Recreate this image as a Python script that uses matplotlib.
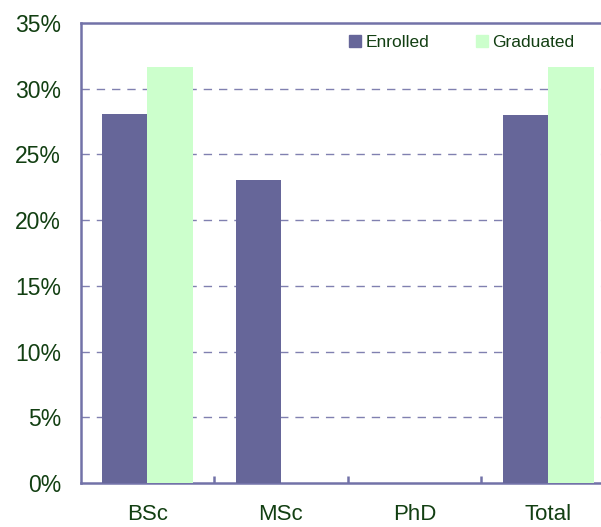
import numpy as np
import matplotlib
matplotlib.use('Agg')
import matplotlib.pyplot as plt
from matplotlib.patches import Patch

categories = ['BSc', 'MSc', 'PhD', 'Total']
enrolled = [28.1, 23.05, 0.0, 28.0]
graduated = [31.65, 0.0, 0.0, 31.65]
yticks = [0, 5, 10, 15, 20, 25, 30, 35]

txt = '#123f12'
edge = '#7272a8'
c_enr = '#666699'
c_grad = '#ccffcc'

plt.rcParams['font.family'] = ['Liberation Sans', 'DejaVu Sans']

fig = plt.figure(figsize=(6.01, 5.27), dpi=100)
# axes run past the right edge of the canvas, like the original
ax = fig.add_axes([80.5 / 601, 44 / 527, 534.5 / 601, 460 / 527])

x = np.arange(len(categories))
w = 0.34
ax.bar(x - w / 2, enrolled, w, color=c_enr, zorder=3)
ax.bar(x + w / 2, graduated, w, color=c_grad, zorder=3)

ax.set_xlim(-0.5, 3.5)
ax.set_ylim(0, 35)
ax.set_yticks(yticks)
ax.set_yticklabels([f'{v}%' for v in yticks])
ax.set_xticks(x)
ax.set_xticklabels(categories)
ax.set_xticks([0.5, 1.5, 2.5], minor=True)

for v in yticks[1:-1]:
    ax.axhline(v, color='#8080b0', lw=1, dashes=(6, 5), zorder=1)

for s in ['left', 'bottom', 'top']:
    ax.spines[s].set_color(edge)
    ax.spines[s].set_linewidth(1.8)
ax.spines['right'].set_visible(False)

ax.tick_params(axis='y', length=0, pad=14, labelsize=16.5, labelcolor=txt)
ax.tick_params(axis='x', which='major', length=0, pad=15, labelsize=16, labelcolor=txt)
ax.tick_params(axis='x', which='minor', direction='in', length=5, width=1.8, color=edge)

handles = [Patch(color=c_enr, label='Enrolled'), Patch(color=c_grad, label='Graduated')]
fig.legend(handles=handles, loc='upper left', bbox_to_anchor=(349 / 601, 1 - 35 / 527),
           ncol=2, frameon=False, fontsize=12.5, handlelength=0.7, handleheight=0.7,
           handletextpad=0.25, columnspacing=2.7, borderpad=0, borderaxespad=0,
           labelcolor=txt)

fig.savefig('out.png', dpi=100)
